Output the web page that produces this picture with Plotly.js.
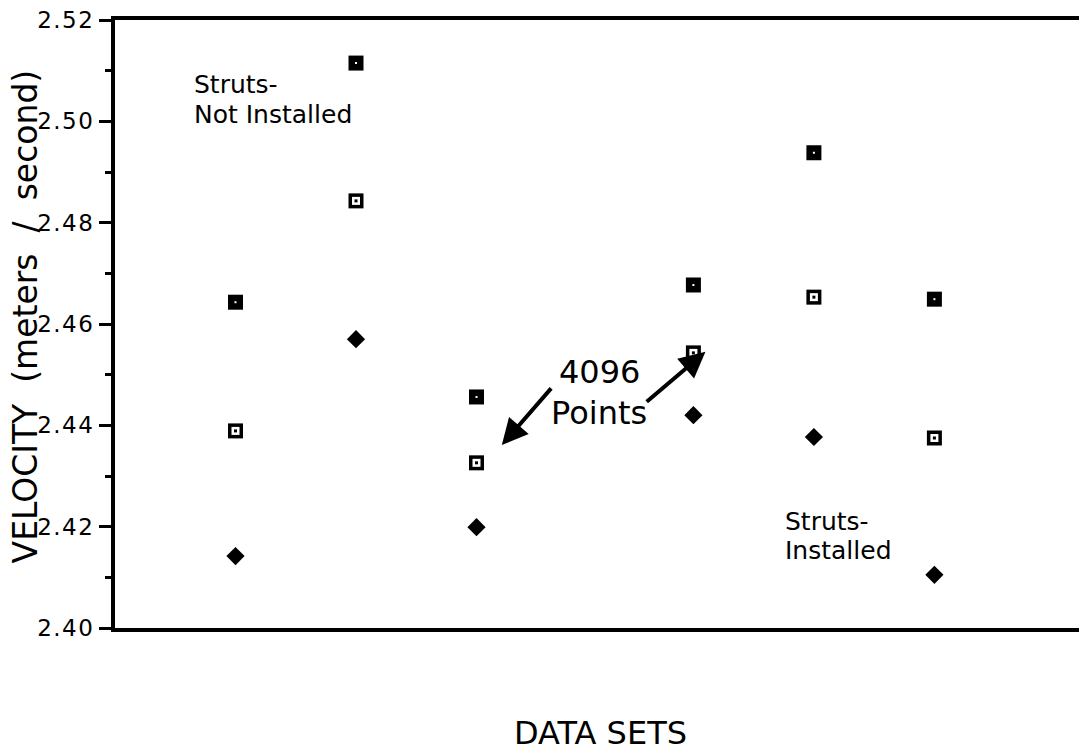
<!DOCTYPE html>
<html>
<head>
<meta charset="utf-8">
<script src="https://cdn.plot.ly/plotly-3.0.1.min.js"></script>
<style>
  html, body { margin: 0; padding: 0; background: #fff; }
  #chart { width: 1079px; height: 753px; }
  /* reference labels are drawn wide */
  #chart .ytick text { letter-spacing: 1.5px; }
</style>
</head>
<body>
<div id="chart"></div>
<script>
// data sets (x positions along the axis) and measured velocities
const dataSets = [1, 2, 3, 4.8, 5.8, 6.8];
const velFilledSquare = [2.4643, 2.5115, 2.4456, 2.4677, 2.4938, 2.4649];
const velOpenSquare = [2.4389, 2.4843, 2.4326, 2.4543, 2.4653, 2.4375];
const velDiamond = [2.4142, 2.4570, 2.4199, 2.4420, 2.4377, 2.4105];

const yTicks = [2.40, 2.42, 2.44, 2.46, 2.48, 2.50, 2.52];

const font = '"DejaVu Sans", Verdana, sans-serif';

const markerTrace = (y, symbol, size, color) => ({
    x: dataSets,
    y: y,
    mode: 'markers',
    type: 'scatter',
    hoverinfo: 'skip',
    marker: { symbol: symbol, size: size, color: color, line: { width: 0 } }
});

const traces = [
    markerTrace(velFilledSquare, 'square', 15, '#000'),
    markerTrace(velFilledSquare, 'square', 2, '#fff'),
    markerTrace(velOpenSquare, 'square', 15, '#000'),
    markerTrace(velOpenSquare, 'square', 8, '#fff'),
    markerTrace(velOpenSquare, 'square', 3, '#000'),
    markerTrace(velDiamond, 'diamond', 14, '#000')
];

const txt = (x, y, text, anchor, size) => ({
    x: x, y: y, xref: 'x', yref: 'y', text: text, showarrow: false,
    xanchor: anchor, yanchor: 'middle',
    font: { family: font, size: size, color: '#000' }
});

const arrow = (x, y, ax, ay) => ({
    x: x, y: y, ax: ax, ay: ay, xref: 'x', yref: 'y', axref: 'x', ayref: 'y',
    text: '', showarrow: true, arrowhead: 2, arrowsize: 1.3, arrowwidth: 4,
    arrowcolor: '#000'
});

const layout = {
    width: 1079,
    height: 753,
    margin: { l: 115, r: 0, t: 20, b: 125 },
    paper_bgcolor: '#fff',
    plot_bgcolor: '#fff',
    showlegend: false,
    font: { family: font, color: '#000' },
    xaxis: {
        range: [0, 8],
        showgrid: false,
        zeroline: false,
        showticklabels: false,
        ticks: '',
        showline: true,
        linewidth: 4,
        linecolor: '#000',
        mirror: true
    },
    yaxis: {
        range: [2.40, 2.52],
        tickvals: yTicks,
        tickformat: '.2f',
        showgrid: false,
        zeroline: false,
        showline: true,
        linewidth: 4,
        linecolor: '#000',
        ticks: 'outside',
        ticklen: 12,
        tickwidth: 3,
        tickcolor: '#000',
        tickfont: { family: font, size: 23 },
        minor: { dtick: 0.01, tick0: 2.41, ticks: 'outside', ticklen: 6, tickwidth: 3, tickcolor: '#000', showgrid: false }
    },
    annotations: [
        {
            x: -0.093, y: 0.513, xref: 'paper', yref: 'paper', showarrow: false,
            xanchor: 'center', yanchor: 'middle',
            text: 'VELOCITY  (meters  /  second)', textangle: -90,
            font: { family: font, size: 33, color: '#000' }
        },
        {
            x: 0.504, y: -0.173, xref: 'paper', yref: 'paper', showarrow: false,
            text: 'DATA SETS', xanchor: 'center', yanchor: 'middle',
            font: { family: font, size: 32, color: '#000' }
        },
        txt(0.64, 2.5072, 'Struts-', 'left', 25),
        txt(0.64, 2.5013, 'Not Installed', 'left', 25),
        txt(4.02, 2.4505, '4096', 'center', 32),
        txt(4.02, 2.4424, 'Points', 'center', 32),
        txt(5.54, 2.4211, 'Struts-', 'left', 25),
        txt(5.54, 2.4152, 'Installed', 'left', 25),
        arrow(3.21, 2.4361, 3.63, 2.4476),
        arrow(4.90, 2.4545, 4.40, 2.4444)
    ]
};

Plotly.newPlot('chart', traces, layout, { displayModeBar: false, staticPlot: true });
</script>
</body>
</html>
